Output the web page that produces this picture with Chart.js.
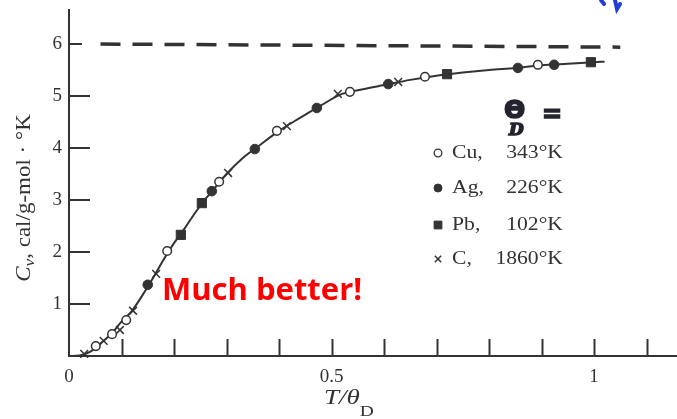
<!DOCTYPE html>
<html><head><meta charset="utf-8">
<script src="https://cdn.jsdelivr.net/npm/chart.js@4/dist/chart.umd.min.js"></script>
<style>html,body{margin:0;padding:0;background:#fff;}#wrap{width:677px;height:419px;position:relative;}</style>
</head><body><div id="wrap"><canvas id="c" width="677" height="419"></canvas></div>
<script>
// ---- data ----
const curveX = [0,0.02,0.04,0.06,0.08,0.10,0.12,0.14,0.16,0.18,0.20,0.22,0.24,0.26,0.28,0.30,0.33,0.36,0.40,0.44,0.48,0.52,0.56,0.60,0.65,0.70,0.75,0.80,0.85,0.90,0.95,1.00,1.02];
const curveY = [0,0.01,0.08,0.24,0.42,0.66,0.87,1.17,1.50,1.85,2.17,2.45,2.75,3.02,3.26,3.50,3.80,4.03,4.33,4.58,4.82,5.04,5.13,5.21,5.31,5.39,5.45,5.50,5.54,5.59,5.62,5.65,5.66];
const classicalX = [0.06,1.05];
const classicalY = [6.0,5.94];
const cuX = [0.051,0.082,0.109,0.187,0.286,0.396,0.535,0.678,0.893];
const cuY = [0.19,0.42,0.69,2.02,3.35,4.33,5.08,5.37,5.60];
const agX = [0.150,0.272,0.354,0.472,0.608,0.855,0.924];
const agY = [1.37,3.17,3.98,4.77,5.23,5.54,5.60];
const pbX = [0.213,0.253,0.720,0.994];
const pbY = [2.33,2.94,5.42,5.65];
const cX = [0.029,0.066,0.097,0.122,0.166,0.303,0.415,0.512,0.627];
const cY = [0.04,0.29,0.50,0.87,1.58,3.52,4.42,5.04,5.27];
const xTickVals = [0,0.1,0.2,0.3,0.4,0.5,0.6,0.7,0.8,0.9,1.0,1.1];
const xTickLabels = ['0','','','','','0.5','','','','','1',''];
const yTickVals = [0,1,2,3,4,5,6];
const yTickLabels = ['','1','2','3','4','5','6'];
const legendNames = ['Cu,','Ag,','Pb,','C,'];
const legendTemps = ['343°K','226°K','102°K','1860°K'];

const pts = (xs, ys) => xs.map((x, i) => ({x, y: ys[i]}));
const INK = '#333';
const SERIF = '"Liberation Serif", "DejaVu Serif", serif';

function stretchText(ctx, txt, x, y, sx, align) {
  const w = ctx.measureText(txt).width * sx;
  ctx.save();
  ctx.translate(align === 'right' ? x - w : x, y);
  ctx.scale(sx, 1);
  ctx.textAlign = 'left';
  ctx.fillText(txt, 0, 0);
  ctx.restore();
  return w;
}

const overlay = {
  id: 'overlay',
  afterDraw(chart) {
    const ctx = chart.ctx;
    const xs = chart.scales.x, ys = chart.scales.y;
    const x0 = xs.getPixelForValue(0), y0 = ys.getPixelForValue(0);
    ctx.save();
    ctx.strokeStyle = INK; ctx.lineWidth = 2;
    // inward ticks
    xTickVals.forEach(v => { if (v === 0) return; const px = Math.round(xs.getPixelForValue(v)) + 0.5; ctx.beginPath(); ctx.moveTo(px, y0); ctx.lineTo(px, y0 - 17); ctx.stroke(); });
    yTickVals.forEach(v => { if (v === 0) return; const py = Math.round(ys.getPixelForValue(v)); ctx.beginPath(); ctx.moveTo(x0, py); ctx.lineTo(x0 + (v === 6 ? 13 : 21), py); ctx.stroke(); });
    // y title (rotated)
    ctx.fillStyle = INK;
    ctx.save();
    ctx.translate(24, 198);
    ctx.rotate(-Math.PI / 2);
    const SX = 1.15;
    ctx.scale(SX, 1);
    const f1 = 'italic 20px ' + SERIF, f2 = 'italic 15px ' + SERIF, f3 = '20px ' + SERIF;
    const s3 = ', cal/g-mol · °K';
    ctx.font = f1; const w1 = ctx.measureText('C').width;
    ctx.font = f2; const w2 = ctx.measureText('v').width;
    ctx.font = f3; const w3 = ctx.measureText(s3).width;
    let tx = -(w1 + w2 + w3) / 2;
    ctx.textBaseline = 'alphabetic';
    ctx.font = f1; ctx.fillText('C', tx, 6); tx += w1;
    ctx.font = f2; ctx.fillText('v', tx, 10); tx += w2;
    ctx.font = f3; ctx.fillText(s3, tx, 6);
    ctx.restore();
    // x title
    ctx.textBaseline = 'alphabetic';
    ctx.font = 'italic 20px ' + SERIF;
    const wt = stretchText(ctx, 'T/θ', 324, 404, 1.35, 'left');
    ctx.font = '15px ' + SERIF;
    stretchText(ctx, 'D', 324 + wt, 416, 1.3, 'left');
    // legend
    const rows = [153, 188, 225, 259];
    const styles = [
      {pointStyle:'circle', radius:3.8, bg:'#fff', bw:1.3},
      {pointStyle:'circle', radius:4, bg:INK, bw:1},
      {pointStyle:'rect', radius:5.5, bg:INK, bw:1},
      {pointStyle:'crossRot', radius:4.5, bg:INK, bw:1.5}
    ];
    rows.forEach((ry, i) => {
      const s = styles[i];
      ctx.fillStyle = s.bg; ctx.strokeStyle = INK; ctx.lineWidth = s.bw;
      Chart.helpers.drawPoint(ctx, {pointStyle: s.pointStyle, radius: s.radius, borderWidth: s.bw, rotation: 0}, 438, ry);
      ctx.fillStyle = INK; ctx.font = '19px ' + SERIF; ctx.textBaseline = 'middle';
      stretchText(ctx, legendNames[i], 452, ry, 1.14, 'left');
      stretchText(ctx, legendTemps[i], 563, ry, 1.14, 'right');
    });
    // handwritten Theta_D =
    ctx.textAlign = 'left';
    ctx.fillStyle = '#24242e'; ctx.strokeStyle = '#24242e'; ctx.lineWidth = 1.5;
    ctx.font = 'bold 25px "DejaVu Sans", sans-serif'; ctx.textBaseline = 'alphabetic';
    ctx.fillText('Θ', 504, 118); ctx.strokeText('Θ', 504, 118);
    ctx.font = 'bold italic 17px "DejaVu Serif", serif';
    ctx.fillText('D', 509, 135); ctx.strokeText('D', 509, 135);
    ctx.font = 'bold 24px "DejaVu Sans", sans-serif';
    ctx.fillText('=', 542, 122); ctx.strokeText('=', 542, 122);
    // red annotation
    ctx.fillStyle = '#ff0000'; ctx.font = 'bold 31px "Open Sans", "Liberation Sans", sans-serif';
    ctx.fillText('Much better!', 162, 300);
    // blue handwriting remnant
    ctx.strokeStyle = '#1f3fd6'; ctx.lineWidth = 4; ctx.lineCap = 'round';
    ctx.beginPath(); ctx.moveTo(601, 0); ctx.lineTo(604, 4); ctx.stroke();
    ctx.beginPath(); ctx.moveTo(615, 0); ctx.lineTo(617, 9); ctx.lineTo(620, 4); ctx.stroke();
    ctx.restore();
  }
};

new Chart(document.getElementById('c'), {
  type: 'scatter',
  data: {
    datasets: [
      {label:'Cu', data: pts(cuX, cuY), pointStyle:'circle', pointRadius:4.3, pointBackgroundColor:'#fff', pointBorderColor:INK, pointBorderWidth:1.5, showLine:false, order:1, clip:false},
      {label:'Ag', data: pts(agX, agY), pointStyle:'circle', pointRadius:4.8, pointBackgroundColor:INK, pointBorderColor:INK, pointBorderWidth:1, showLine:false, order:1, clip:false},
      {label:'Pb', data: pts(pbX, pbY), pointStyle:'rect', pointRadius:6.5, pointBackgroundColor:INK, pointBorderColor:INK, pointBorderWidth:1, showLine:false, order:1, clip:false},
      {label:'C', data: pts(cX, cY), pointStyle:'crossRot', pointRadius:5.5, pointBorderColor:INK, pointBorderWidth:1.5, showLine:false, order:1, clip:false},
      {label:'Debye', data: pts(curveX, curveY), showLine:true, borderColor:INK, borderWidth:2, pointRadius:0, cubicInterpolationMode:'monotone', order:5, clip:false},
      {label:'3R', data: pts(classicalX, classicalY), showLine:true, borderColor:INK, borderWidth:3.5, borderDash:[20,12], pointRadius:0, order:5, clip:false}
    ]
  },
  options: {
    responsive:false, animation:false, devicePixelRatio:1,
    layout:{autoPadding:false, padding:{top:10, right:0, left:0, bottom:0}},
    plugins:{legend:{display:false}, tooltip:{enabled:false}},
    scales:{
      x:{type:'linear', min:0, max:1.158,
        afterBuildTicks: s => { s.ticks = xTickVals.map(v => ({value:v})); },
        afterFit: s => { s.height = 63; s.paddingLeft = 0; s.paddingRight = 0; },
        grid:{display:false, drawTicks:false},
        border:{display:true, color:INK, width:2},
        ticks:{autoSkip:false, maxRotation:0, padding:10, color:INK, font:{family:SERIF, size:19}, callback:(v,i)=>xTickLabels[i]}
      },
      y:{type:'linear', min:0, max:6.654,
        afterBuildTicks: s => { s.ticks = yTickVals.map(v => ({value:v})); },
        afterFit: s => { s.width = 69; s.paddingTop = 0; s.paddingBottom = 0; },
        grid:{display:false, drawTicks:false},
        border:{display:true, color:INK, width:2},
        ticks:{autoSkip:false, padding:7, color:INK, font:{family:SERIF, size:19}, callback:(v,i)=>yTickLabels[i]}
      }
    }
  },
  plugins:[overlay]
});
</script>
</body></html>
